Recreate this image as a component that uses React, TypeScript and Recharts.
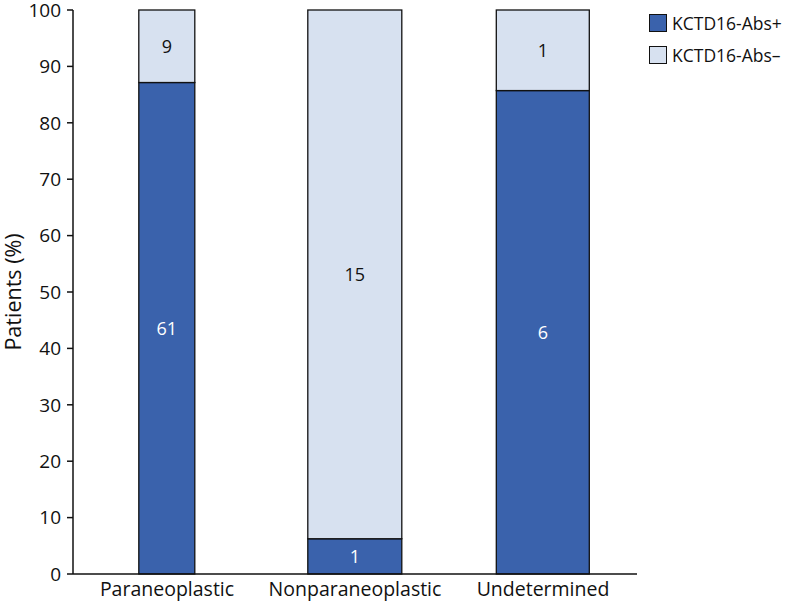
import React from "react";
import { BarChart, Bar, XAxis, YAxis, LabelList } from "recharts";

const categories = ["Paraneoplastic", "Nonparaneoplastic", "Undetermined"];
const positiveCounts = [61, 1, 6];
const negativeCounts = [9, 15, 1];
const yTicks = [0, 10, 20, 30, 40, 50, 60, 70, 80, 90, 100];
const seriesNames = ["KCTD16-Abs+", "KCTD16-Abs\u2013"];

const barWidths = [56, 94, 93];
const DARK = "#3a62ac";
const LIGHT = "#d7e1f0";
const FONT = "'Open Sans', 'Noto Sans', sans-serif";

const data = categories.map((c, i) => {
  const total = positiveCounts[i] + negativeCounts[i];
  return {
    name: c,
    pos: (positiveCounts[i] / total) * 100,
    neg: (negativeCounts[i] / total) * 100,
    posN: positiveCounts[i],
    negN: negativeCounts[i],
  };
});

const VarBar = (props: any) => {
  const { x, y, width, height, fill, index } = props;
  const w = barWidths[index] ?? width;
  const nx = x + width / 2 - w / 2;
  return <rect x={nx} y={y} width={w} height={height} fill={fill} stroke="#111" strokeWidth={1.3} />;
};

const LegendBox = () => (
  <div
    style={{
      position: "absolute",
      left: 649,
      top: 7,
      fontFamily: FONT,
      fontSize: 17.5,
      color: "#111",
    }}
  >
    {seriesNames.map((n, i) => (
      <div key={n} style={{ display: "flex", alignItems: "center", height: 32 }}>
        <div
          style={{
            width: 16,
            height: 16,
            background: i === 0 ? DARK : LIGHT,
            border: "1.3px solid #111",
            marginRight: 5,
          }}
        />
        <span>{n}</span>
      </div>
    ))}
  </div>
);

export default function App() {
  return (
    <div style={{ position: "relative", width: 800, height: 604 }}>
      <style>{`html,body{margin:0;padding:0;overflow:visible} .recharts-surface{overflow:visible}`}</style>
      <BarChart
        width={800}
        height={604}
        data={data}
        margin={{ top: 10, right: 163, bottom: 0, left: 0 }}
        barCategoryGap="10%"
        style={{ overflow: "visible" }}
      >
        <XAxis
          dataKey="name"
          tickLine={false}
          axisLine={{ stroke: "#111", strokeWidth: 1.5 }}
          height={30}
          tick={{ fill: "#111", fontSize: 19.5, fontFamily: FONT }}
          tickMargin={2}
          interval={0}
        />
        <YAxis
          width={73}
          domain={[0, 100]}
          ticks={yTicks}
          interval={0}
          tickSize={6}
          tickLine={{ stroke: "#111", strokeWidth: 1.5 }}
          axisLine={{ stroke: "#111", strokeWidth: 1.5 }}
          tick={{ fill: "#111", fontSize: 19, fontFamily: FONT }}
          tickMargin={6}
          label={{
            value: "Patients (%)",
            angle: -90,
            position: "insideLeft",
            offset: 0,
            dx: 13,
            style: { textAnchor: "middle", fill: "#111", fontSize: 21.5, fontFamily: FONT },
          }}
        />
        <Bar dataKey="pos" stackId="a" fill={DARK} shape={<VarBar />} isAnimationActive={false}>
          <LabelList dataKey="posN" position="center" fill="#fff" fontSize={18} fontFamily={FONT} />
        </Bar>
        <Bar dataKey="neg" stackId="a" fill={LIGHT} shape={<VarBar />} isAnimationActive={false}>
          <LabelList dataKey="negN" position="center" fill="#111" fontSize={18} fontFamily={FONT} />
        </Bar>
      </BarChart>
      <LegendBox />
    </div>
  );
}
